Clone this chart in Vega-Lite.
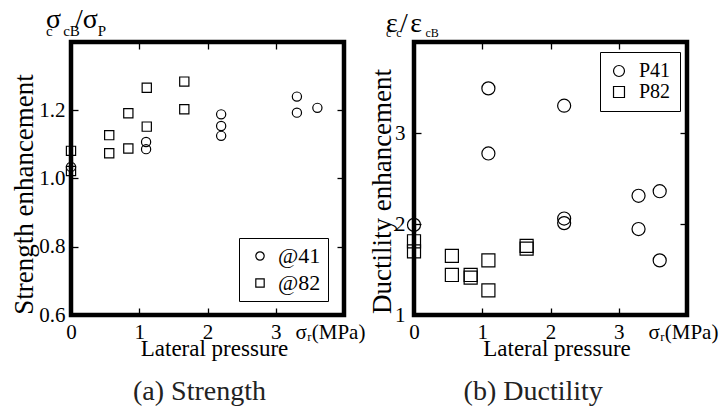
{
  "$schema": "https://vega.github.io/schema/vega-lite/v6.json",
  "padding": {"left": 8, "top": 4, "right": 2, "bottom": 2},
  "background": "white",
  "datasets": {
    "strength": [
      {"series": "@41", "pressure": 0, "ratio": 1.034},
      {"series": "@41", "pressure": 1.1, "ratio": 1.107},
      {"series": "@41", "pressure": 1.1, "ratio": 1.086},
      {"series": "@41", "pressure": 2.2, "ratio": 1.188},
      {"series": "@41", "pressure": 2.2, "ratio": 1.154},
      {"series": "@41", "pressure": 2.2, "ratio": 1.125},
      {"series": "@41", "pressure": 3.31, "ratio": 1.24},
      {"series": "@41", "pressure": 3.31, "ratio": 1.193},
      {"series": "@41", "pressure": 3.61, "ratio": 1.207},
      {"series": "@82", "pressure": 0, "ratio": 1.081},
      {"series": "@82", "pressure": 0, "ratio": 1.022},
      {"series": "@82", "pressure": 0.56, "ratio": 1.127},
      {"series": "@82", "pressure": 0.56, "ratio": 1.074},
      {"series": "@82", "pressure": 0.84, "ratio": 1.191},
      {"series": "@82", "pressure": 0.84, "ratio": 1.088},
      {"series": "@82", "pressure": 1.11, "ratio": 1.266},
      {"series": "@82", "pressure": 1.11, "ratio": 1.152},
      {"series": "@82", "pressure": 1.66, "ratio": 1.284},
      {"series": "@82", "pressure": 1.66, "ratio": 1.203}
    ],
    "ductility": [
      {"series": "P41", "pressure": 0, "ratio": 1.99},
      {"series": "P41", "pressure": 1.09, "ratio": 3.49},
      {"series": "P41", "pressure": 1.09, "ratio": 2.775},
      {"series": "P41", "pressure": 2.2, "ratio": 3.3},
      {"series": "P41", "pressure": 2.2, "ratio": 2.06},
      {"series": "P41", "pressure": 2.2, "ratio": 2.01},
      {"series": "P41", "pressure": 3.29, "ratio": 2.31},
      {"series": "P41", "pressure": 3.29, "ratio": 1.945},
      {"series": "P41", "pressure": 3.6, "ratio": 2.36},
      {"series": "P41", "pressure": 3.6, "ratio": 1.6},
      {"series": "P82", "pressure": 0, "ratio": 1.81},
      {"series": "P82", "pressure": 0, "ratio": 1.7},
      {"series": "P82", "pressure": 0.555, "ratio": 1.65},
      {"series": "P82", "pressure": 0.555, "ratio": 1.44},
      {"series": "P82", "pressure": 0.83, "ratio": 1.44},
      {"series": "P82", "pressure": 0.83, "ratio": 1.41},
      {"series": "P82", "pressure": 1.09, "ratio": 1.6},
      {"series": "P82", "pressure": 1.09, "ratio": 1.27},
      {"series": "P82", "pressure": 1.65, "ratio": 1.76},
      {"series": "P82", "pressure": 1.65, "ratio": 1.73}
    ]
  },
  "config": {
    "font": "'Liberation Serif', 'Times New Roman', serif",
    "view": {"stroke": "black", "strokeWidth": 4.5},
    "axis": {
      "grid": false, "domain": false,
      "tickColor": "black", "tickWidth": 1.3, "tickSize": 7, "offset": -7,
      "labelColor": "black", "labelFontSize": 21, "labelFont": "'Liberation Serif', 'Times New Roman', serif",
      "titleFont": "'Liberation Serif', 'Times New Roman', serif", "titleColor": "black", "titleFontWeight": "normal",
      "labelFlush": false, "labelOverlap": false
    },
    "legend": {"labelFont": "'Liberation Serif', 'Times New Roman', serif", "labelColor": "black"},
    "title": {"font": "'Liberation Serif', 'Times New Roman', serif", "subtitleFont": "'Liberation Serif', 'Times New Roman', serif"}
  },
  "spacing": 70,
  "bounds": "flush",
  "resolve": {"scale": {"shape": "independent"}, "legend": {"shape": "independent"}},
  "hconcat": [
    {
      "width": 273, "height": 273,
      "data": {"name": "strength"},
      "title": {
        "text": "\u2009σ\u2002/σ", "subtitle": "c\u2002\u2009cB\u2003\u2009P",
        "anchor": "start", "frame": "group", "dx": -25,
        "fontSize": 28, "subtitleFontSize": 15, "subtitlePadding": -10, "offset": 2,
        "fontWeight": "normal", "color": "black", "subtitleColor": "black"
      },
      "layer": [
        {
          "mark": {"type": "point", "filled": false, "color": "black", "strokeWidth": 1.2, "opacity": 1, "size": 85},
          "encoding": {
            "x": {"field": "pressure", "type": "quantitative",
              "scale": {"domain": [0, 4], "nice": false},
              "axis": {"orient": "bottom", "values": [0, 1, 2, 3, 4],
                "labelExpr": "datum.value == 4 ? 'σᵣ(MPa)' : datum.label",
                "labelPadding": 6,
                "labelOffset": {"condition": {"test": "datum.value == 4", "value": -14}, "value": 0},
                "title": "Lateral pressure", "titleFontSize": 23, "titleX": 143, "titleY": 47,
                "titleBaseline": "alphabetic", "titleAlign": "center"}},
            "y": {"field": "ratio", "type": "quantitative",
              "scale": {"domain": [0.6, 1.4], "nice": false, "zero": false},
              "axis": {"orient": "left", "values": [0.6, 0.8, 1.0, 1.2], "format": ".1f", "labelPadding": 6,
                "title": "Strength enhancement", "titleFontSize": 27, "titleX": -53.5, "titleY": 152,
                "titleAngle": -90, "titleAlign": "center", "titleBaseline": "middle"}},
            "shape": {"field": "series", "type": "nominal",
              "scale": {"domain": ["@41", "@82"], "range": ["circle", "square"]},
              "legend": {"orient": "none", "legendX": 168, "legendY": 196, "title": null,
                "labelFontSize": 22, "symbolSize": 70, "padding": 7, "symbolOffset": 3, "labelOffset": 7,
                "rowPadding": 5, "strokeColor": "black", "fillColor": "white",
                "symbolStrokeColor": "black", "symbolStrokeWidth": 1.2, "symbolFillColor": "transparent"}}
          }
        },
        {
          "mark": {"type": "point", "opacity": 0},
          "encoding": {
            "x": {"field": "pressure", "type": "quantitative",
              "axis": {"orient": "top", "values": [1, 2, 3], "labels": false,
                "title": "(a) Strength", "titleFontSize": 28, "titleX": 128, "titleY": 350,
                "titleBaseline": "alphabetic", "titleAlign": "center", "titleColor": "#222222"}},
            "y": {"field": "ratio", "type": "quantitative",
              "axis": {"orient": "right", "values": [0.8, 1.0, 1.2], "labels": false, "title": null}}
          }
        }
      ],
      "resolve": {"axis": {"x": "independent", "y": "independent"}}
    },
    {
      "width": 273, "height": 273,
      "data": {"name": "ductility"},
      "title": {
        "text": "ε\u200A/\u200Aε", "subtitle": "\u2002c\u2009\u2009c\u2003\u2003cB",
        "anchor": "start", "frame": "group", "dx": -28,
        "fontSize": 28, "subtitleFontSize": 12, "subtitlePadding": -10, "offset": 2,
        "fontWeight": "normal", "color": "black", "subtitleColor": "black"
      },
      "layer": [
        {
          "mark": {"type": "point", "filled": false, "color": "black", "strokeWidth": 1.2, "opacity": 1, "size": 170},
          "encoding": {
            "x": {"field": "pressure", "type": "quantitative",
              "scale": {"domain": [0, 4], "nice": false},
              "axis": {"orient": "bottom", "values": [0, 1, 2, 3, 4],
                "labelExpr": "datum.value == 4 ? 'σᵣ(MPa)' : datum.label",
                "labelPadding": 6,
                "labelOffset": {"condition": {"test": "datum.value == 4", "value": -4}, "value": 0},
                "title": "Lateral pressure", "titleFontSize": 23, "titleX": 142.5, "titleY": 47,
                "titleBaseline": "alphabetic", "titleAlign": "center"}},
            "y": {"field": "ratio", "type": "quantitative",
              "scale": {"domain": [1, 4], "nice": false, "zero": false},
              "axis": {"orient": "left", "values": [1, 2, 3], "format": "d", "labelPadding": 9,
                "title": "Ductility enhancement", "titleFontSize": 27, "titleX": -38.5, "titleY": 149,
                "titleAngle": -90, "titleAlign": "center", "titleBaseline": "middle"}},
            "shape": {"field": "series", "type": "nominal",
              "scale": {"domain": ["P41", "P82"], "range": ["circle", "square"]},
              "legend": {"orient": "none", "legendX": 186, "legendY": 10, "title": null,
                "labelFontSize": 20, "symbolSize": 120, "padding": 9, "symbolOffset": 0, "labelOffset": 10,
                "rowPadding": 1, "strokeColor": "black", "fillColor": "white",
                "symbolStrokeColor": "black", "symbolStrokeWidth": 1.2, "symbolFillColor": "transparent"}}
          }
        },
        {
          "mark": {"type": "point", "opacity": 0},
          "encoding": {
            "x": {"field": "pressure", "type": "quantitative",
              "axis": {"orient": "top", "values": [1, 2, 3], "labels": false,
                "title": "(b) Ductility", "titleFontSize": 28, "titleX": 118.7, "titleY": 350,
                "titleBaseline": "alphabetic", "titleAlign": "center", "titleColor": "#222222"}},
            "y": {"field": "ratio", "type": "quantitative",
              "axis": {"orient": "right", "values": [2, 3], "labels": false, "title": null}}
          }
        }
      ],
      "resolve": {"axis": {"x": "independent", "y": "independent"}}
    }
  ]
}
